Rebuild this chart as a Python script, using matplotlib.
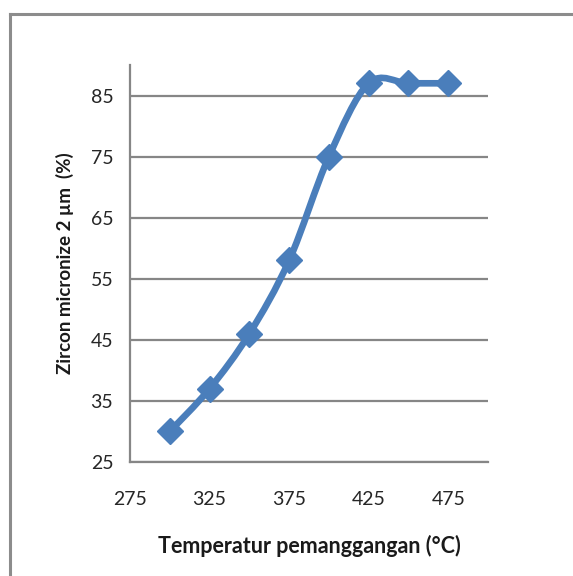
import matplotlib.pyplot as plt
import numpy as np
from matplotlib.path import Path
from matplotlib.patches import PathPatch
from matplotlib.lines import Line2D

# Data
temperatures = [300, 325, 350, 375, 400, 425, 450, 475]
zircon = [30, 37, 46, 58, 75, 87, 87, 87]
x_ticks = [275, 325, 375, 425, 475]
y_ticks = [25, 35, 45, 55, 65, 75, 85]

blue = '#4A7EBB'
gray = '#868686'

plt.rcParams['font.family'] = ['Lato', 'DejaVu Sans']

fig = plt.figure(figsize=(5.73, 5.76), dpi=100)
ax = fig.add_axes([0.2269, 0.1979, 0.6248, 0.6893])

# smoothed line (Catmull-Rom as cubic bezier, like Excel's smoothed line)
x = np.array(temperatures, float)
y = np.array(zircon, float)
verts = [(x[0], y[0])]
codes = [Path.MOVETO]
n = len(x)
for i in range(n - 1):
    p0 = (x[max(i - 1, 0)], y[max(i - 1, 0)])
    p1 = (x[i], y[i])
    p2 = (x[i + 1], y[i + 1])
    p3 = (x[min(i + 2, n - 1)], y[min(i + 2, n - 1)])
    c1 = (p1[0] + (p2[0] - p0[0]) / 6, p1[1] + (p2[1] - p0[1]) / 6)
    c2 = (p2[0] - (p3[0] - p1[0]) / 6, p2[1] - (p3[1] - p1[1]) / 6)
    verts += [c1, c2, p2]
    codes += [Path.CURVE4] * 3
ax.add_patch(PathPatch(Path(verts, codes), facecolor='none', edgecolor=blue,
                       linewidth=4.8, capstyle='round', joinstyle='round', zorder=3))
ax.plot(temperatures, zircon, linestyle='none', marker='D', markersize=13,
        color=blue, zorder=4)

ax.set_xlim(275, 500)
ax.set_ylim(25, 90)
ax.set_xticks(x_ticks)
ax.set_yticks(y_ticks)
ax.tick_params(axis='both', length=0, labelsize=14, colors='#262626')
ax.tick_params(axis='y', pad=12)
ax.tick_params(axis='x', pad=21)
ax.grid(axis='y', color=gray, linewidth=1.6)
ax.set_axisbelow(True)
for side in ['top', 'right']:
    ax.spines[side].set_visible(False)
for side in ['left', 'bottom']:
    ax.spines[side].set_color(gray)
    ax.spines[side].set_linewidth(1.6)

ax.set_ylabel('Zircon micronize 2 µm  (%)', fontsize=13.5, fontweight='bold',
              labelpad=12, color='#1a1a1a')
ax.set_xlabel('Temperatur pemanggangan (°C)', fontsize=15.5, fontweight='bold',
              labelpad=19, color='#1a1a1a')

# outer chart border
fig.add_artist(Line2D([0.0175, 0.0175], [0, 0.9757], color='#8C8C8C', linewidth=2.2))
fig.add_artist(Line2D([0.0175, 1.0], [0.9757, 0.9757], color='#8C8C8C', linewidth=2.2))

plt.savefig('out.png', dpi=100)
